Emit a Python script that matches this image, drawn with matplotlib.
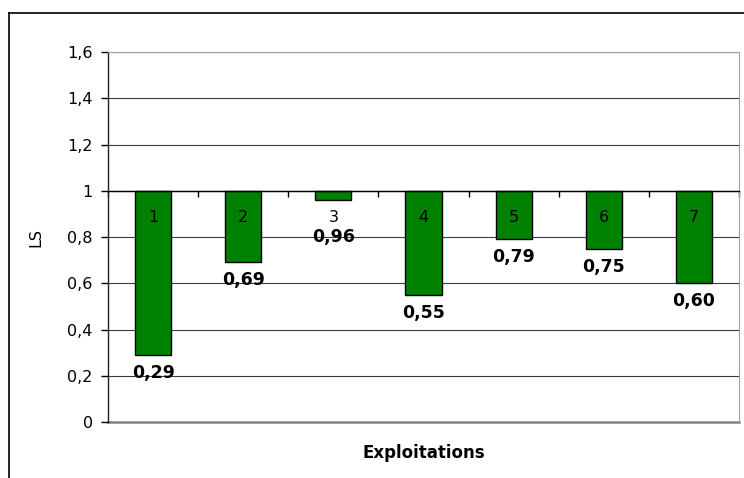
import numpy as np
import matplotlib
matplotlib.use("Agg")
import matplotlib.pyplot as plt
from matplotlib.lines import Line2D

plt.rcParams["font.family"] = ["DejaVu Sans"]

categories = ["1", "2", "3", "4", "5", "6", "7"]
ls_values = [0.29, 0.69, 0.96, 0.55, 0.79, 0.75, 0.60]
y_ticks = [0, 0.2, 0.4, 0.6, 0.8, 1, 1.2, 1.4, 1.6]
y_tick_labels = ["0", "0,2", "0,4", "0,6", "0,8", "1", "1,2", "1,4", "1,6"]

W, H = 744, 478
fig = plt.figure(figsize=(W / 100, H / 100), dpi=100)
ax = fig.add_axes([108 / W, (H - 422) / H, (739 - 108) / W, (422 - 52) / H])

x = np.arange(len(categories))
vals = np.array(ls_values)

# gridlines behind the bars
for yt in y_ticks[1:]:
    ax.axhline(yt, color="#3a3a3a", lw=0.8, zorder=0)

# bars hang down from the reference level 1
ax.bar(x, vals - 1, bottom=1, width=0.4, color="#008000",
       edgecolor="black", linewidth=1, zorder=2)

ax.set_xlim(-0.5, len(categories) - 0.5)
ax.set_ylim(0, 1.6)

ax.set_yticks(y_ticks)
ax.set_yticklabels(y_tick_labels, fontsize=11.5)
ax.tick_params(axis="y", direction="out", length=5, width=1, pad=6, colors="black")

# category axis crosses at 1, ticks between categories
ax.spines["bottom"].set_position(("data", 1))
ax.spines["bottom"].set_color("black")
ax.spines["bottom"].set_linewidth(1)
ax.set_xticks(np.arange(-0.5, len(categories), 1))
ax.set_xticklabels([])
ax.tick_params(axis="x", direction="out", length=4, width=1, colors="black")

ax.spines["left"].set_color("#202020")
ax.spines["left"].set_linewidth(1)
ax.spines["top"].set_color("#a0a0a0")
ax.spines["right"].set_color("#a0a0a0")
ax.axhline(0, color="#808080", lw=1.8, zorder=1, clip_on=False)

for xi, cat, v in zip(x, categories, vals):
    ax.text(xi, 1 - 0.117, cat, ha="center", va="center", fontsize=11.5, zorder=3)
    ax.text(xi, min(v - 0.078, 0.8), f"{v:.2f}".replace(".", ","),
            ha="center", va="center", fontsize=12.5, fontweight="bold", zorder=3)

ax.set_ylabel("LS", fontsize=11.5, labelpad=17)
fig.text((108 + 739) / 2 / W, 1 - 453 / H, "Exploitations", ha="center",
         va="center", fontsize=12, fontweight="bold")

# chart area border (top and left)
fig.add_artist(Line2D([9 / W, 1], [1 - 13 / H, 1 - 13 / H], color="black", lw=1.2))
fig.add_artist(Line2D([9 / W, 9 / W], [0, 1 - 13 / H], color="black", lw=1.2))

fig.savefig("out.png", dpi=100)
